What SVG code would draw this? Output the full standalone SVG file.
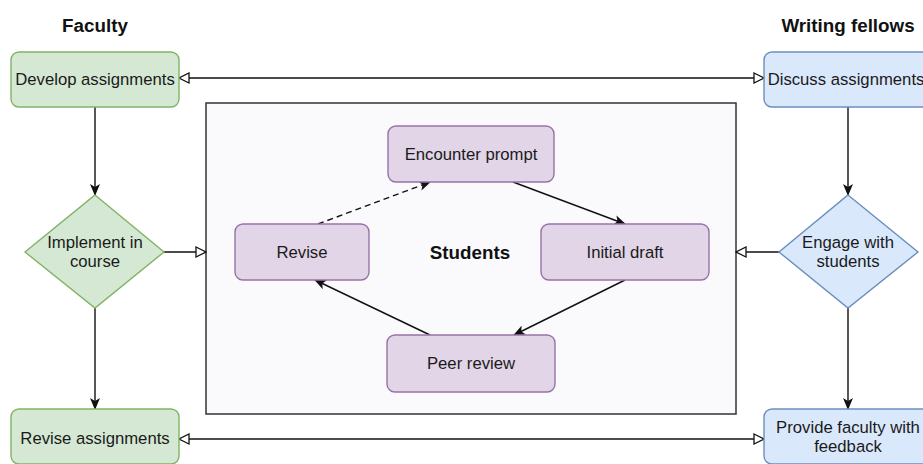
<svg xmlns="http://www.w3.org/2000/svg" width="923" height="464" viewBox="0 0 923 464">
<style>
.t{font-family:"Liberation Sans",Arial,sans-serif;font-size:16.7px;fill:#1a1a1a;text-anchor:middle}
.h{font-family:"Liberation Sans",Arial,sans-serif;font-size:18.8px;font-weight:bold;fill:#111;text-anchor:middle}
.g{fill:#d5e8d4;stroke:#82b366;stroke-width:1.4}
.b{fill:#dae8fc;stroke:#6c8ebf;stroke-width:1.4}
.p{fill:#e1d5e7;stroke:#9673a6;stroke-width:1.4}
.c{fill:none;stroke:#111;stroke-width:1.4}
</style>
<defs>
<marker id="fa" viewBox="0 0 12 10" refX="11" refY="5" markerWidth="12" markerHeight="10" markerUnits="userSpaceOnUse" orient="auto">
<path d="M0,0 L12,5 L0,10 L3,5 z" fill="#111"/>
</marker>
<marker id="oa" viewBox="0 0 12 12" refX="11" refY="6" markerWidth="12" markerHeight="12" markerUnits="userSpaceOnUse" orient="auto-start-reverse">
<path d="M1,1 L11,6 L1,11 Z" fill="#fff" stroke="#111" stroke-width="1.3"/>
</marker>
</defs>
<text class="h" x="95" y="32">Faculty</text>
<text class="h" x="848" y="32">Writing fellows</text>
<g id="students">
<rect x="206" y="103" width="530" height="311" fill="#fafafd" stroke="#333" stroke-width="1.5"/>
<text class="h" x="470" y="259">Students</text>
</g>
<g id="connectors">
<line class="c" x1="179" y1="78" x2="764" y2="78" marker-start="url(#oa)" marker-end="url(#oa)"/>
<line class="c" x1="179" y1="439" x2="764" y2="439" marker-start="url(#oa)" marker-end="url(#oa)"/>
<line class="c" x1="164" y1="252" x2="206" y2="252" marker-end="url(#oa)"/>
<line class="c" x1="779" y1="252" x2="736" y2="252" marker-end="url(#oa)"/>
<line class="c" x1="95" y1="107" x2="95" y2="195" marker-end="url(#fa)"/>
<line class="c" x1="95" y1="308" x2="95" y2="409" marker-end="url(#fa)"/>
<line class="c" x1="848" y1="107" x2="848" y2="195" marker-end="url(#fa)"/>
<line class="c" x1="848" y1="308" x2="848" y2="409" marker-end="url(#fa)"/>
<line class="c" x1="513" y1="182" x2="625" y2="224" marker-end="url(#fa)"/>
<line class="c" x1="625" y1="280" x2="514" y2="335" marker-end="url(#fa)"/>
<line class="c" x1="430" y1="335" x2="315" y2="280" marker-end="url(#fa)"/>
<line class="c" x1="318" y1="224" x2="430" y2="182" stroke-dasharray="6,4" marker-end="url(#fa)"/>
</g>
<g id="develop"><rect class="g" x="11" y="52" width="168" height="55" rx="8"/><text class="t" x="95" y="85">Develop assignments</text></g>
<g id="discuss"><rect class="b" x="764" y="52" width="168" height="55" rx="8"/><text class="t" x="846" y="85">Discuss assignments</text></g>
<g id="implement"><polygon class="g" points="95,195 164,252 95,308 25,252"/><text class="t" x="95" y="248">Implement in</text><text class="t" x="95" y="267">course</text></g>
<g id="engage"><polygon class="b" points="848,195 918,252 848,308 779,252"/><text class="t" x="848" y="248">Engage with</text><text class="t" x="848" y="267">students</text></g>
<g id="revise-assign"><rect class="g" x="11" y="409" width="168" height="55" rx="8"/><text class="t" x="95" y="444">Revise assignments</text></g>
<g id="provide"><rect class="b" x="764" y="409" width="168" height="55" rx="8"/><text class="t" x="848" y="433">Provide faculty with</text><text class="t" x="848" y="452">feedback</text></g>
<g id="encounter"><rect class="p" x="388" y="126" width="166" height="56" rx="8"/><text class="t" x="471" y="160">Encounter prompt</text></g>
<g id="draft"><rect class="p" x="541" y="224" width="168" height="56" rx="8"/><text class="t" x="625" y="258">Initial draft</text></g>
<g id="peer"><rect class="p" x="387" y="335" width="168" height="57" rx="8"/><text class="t" x="471" y="369">Peer review</text></g>
<g id="revise"><rect class="p" x="235" y="224" width="134" height="56" rx="8"/><text class="t" x="302" y="258">Revise</text></g>
</svg>
